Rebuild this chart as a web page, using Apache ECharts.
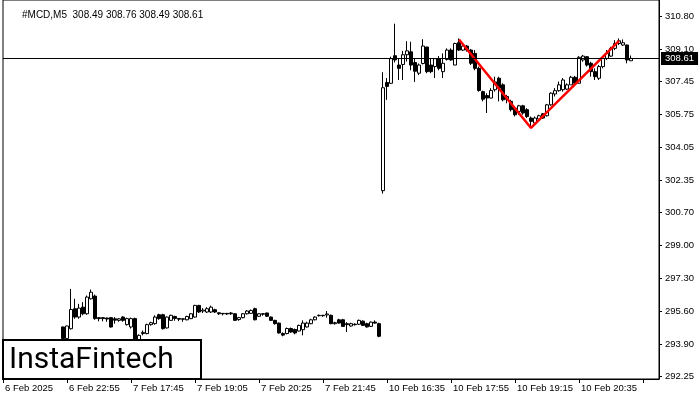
<!DOCTYPE html>
<html><head><meta charset="utf-8">
<script src="https://cdn.jsdelivr.net/npm/echarts@6/dist/echarts.min.js"></script>
<style>html,body{margin:0;padding:0;background:#fff}#c{width:700px;height:400px}</style>
</head><body><div id="c"></div>
<script>
// bars are 5-minute candles; index 0 = 6 Feb 21:35; bars before firstBar are not visible
const firstBar = 15;
const totalSlots = 165;
const xTickLabels = ['6 Feb 2025','6 Feb 22:55','7 Feb 17:45','7 Feb 19:05','7 Feb 20:25','7 Feb 21:45','10 Feb 16:35','10 Feb 17:55','10 Feb 19:15','10 Feb 20:35'];
const yTickLabels = ['292.25','293.90','295.60','297.30','299.00','300.70','302.35','304.05','305.75','307.45','309.10','310.80'];
const titleText = '#MCD,M5  308.49 308.76 308.49 308.61';
const lastPrice = 308.61;
const yMin = 292.10, yMax = 311.62;

const opens = [
294.78,294.18,294.69,295.72,295.29,295.80,295.46,296.23,296.37,295.26,295.26,295.24,295.26,295.20,295.12,295.29,294.90,294.78,295.21,294.13,
294.44,294.44,294.90,294.95,295.41,295.41,294.73,295.12,295.32,295.22,295.20,295.15,295.21,295.29,295.89,295.60,295.55,295.55,295.67,295.51,
295.48,295.48,295.50,295.46,295.16,295.26,295.46,295.48,295.72,295.33,295.46,295.50,295.29,295.12,294.98,294.44,294.44,294.70,294.65,294.57,
294.64,294.78,294.95,295.15,295.36,295.38,295.40,295.38,294.95,295.15,295.15,294.95,294.83,294.92,294.92,295.08,294.95,294.81,295.03,294.95,
301.80,307.37,307.33,308.75,308.27,308.30,308.80,308.95,308.40,307.85,308.35,309.20,308.27,308.19,308.60,307.93,308.56,309.04,308.27,309.42,
309.04,309.25,309.04,308.87,308.10,306.90,306.70,306.57,307.00,307.59,307.25,306.50,306.40,306.05,305.88,306.17,305.97,305.54,305.28,305.49,
305.76,305.66,306.22,306.78,306.95,307.00,307.03,307.25,307.64,307.33,308.53,308.70,308.36,307.93,307.59,308.19,308.61,308.73,309.13,309.38,
309.30,309.30,308.49];
const highs = [
294.80,294.85,296.74,296.23,295.97,296.06,296.40,296.71,296.45,295.28,295.28,295.26,295.29,295.29,295.24,295.34,295.26,295.26,295.26,294.40,
294.60,294.95,295.05,295.38,295.46,295.46,295.32,295.41,295.36,295.24,295.22,295.36,295.50,295.92,295.92,295.75,295.80,295.88,295.72,295.53,
295.50,295.50,295.55,295.50,295.30,295.50,295.65,295.68,295.77,295.50,295.48,295.52,295.32,295.15,295.00,294.50,294.75,294.75,294.70,294.90,
295.12,295.05,295.20,295.33,295.42,295.40,295.60,295.42,295.05,295.20,295.20,295.03,295.00,294.97,295.16,295.12,295.00,295.06,295.12,295.00,
307.90,307.60,308.70,310.40,308.60,309.00,309.50,309.47,308.60,308.35,309.60,309.20,308.60,308.60,308.73,308.87,309.13,309.13,309.42,309.64,
309.38,309.30,309.10,309.04,308.19,306.95,306.82,307.08,307.67,307.67,307.33,306.73,306.48,306.14,306.22,306.22,306.05,305.62,305.62,305.71,
305.80,306.27,306.86,307.08,307.42,307.60,307.33,307.71,307.71,308.73,308.79,308.73,308.44,308.10,308.27,308.70,309.04,309.21,309.55,309.64,
309.59,309.33,308.76];
const lows = [
293.95,294.10,294.65,295.20,295.20,295.38,295.41,296.20,295.15,295.07,295.07,295.05,294.74,294.95,295.05,295.05,294.85,294.70,294.10,294.10,
294.35,294.40,294.85,294.90,295.15,294.65,294.70,295.10,295.10,295.08,295.05,295.12,295.18,295.26,295.50,295.50,295.50,295.50,295.50,295.40,
295.38,295.40,295.40,295.10,295.10,295.22,295.42,295.45,295.12,295.30,295.36,295.30,295.10,294.90,294.44,294.30,294.40,294.48,294.40,294.55,
294.35,294.75,294.92,295.12,295.32,295.30,295.26,294.92,294.90,294.95,294.78,294.52,294.80,294.85,294.88,294.83,294.75,294.78,294.95,294.25,
301.65,306.48,307.30,308.40,307.50,307.50,308.45,308.00,307.40,307.75,308.30,307.85,307.85,307.60,308.00,307.60,308.50,308.50,308.27,309.00,
308.99,308.96,308.27,308.00,306.90,306.40,305.80,306.55,306.90,306.40,306.40,306.30,305.88,305.62,305.71,305.71,305.54,305.11,305.28,305.45,
305.49,305.62,306.17,306.65,306.90,306.90,306.99,307.25,307.25,307.33,308.44,308.19,307.67,307.50,307.50,308.10,308.53,308.70,309.04,309.30,
309.25,308.36,308.49];
const closes = [
294.18,294.83,295.68,295.29,295.75,295.46,296.32,296.57,295.21,295.21,295.21,295.19,294.78,295.13,295.20,295.12,295.21,295.21,294.15,294.35,
294.50,294.90,295.00,295.29,295.21,294.69,295.29,295.38,295.22,295.18,295.18,295.32,295.46,295.89,295.55,295.65,295.72,295.80,295.55,295.46,
295.46,295.45,295.46,295.12,295.26,295.46,295.60,295.63,295.15,295.46,295.44,295.33,295.12,294.95,294.47,294.36,294.70,294.52,294.47,294.86,
294.98,294.98,295.15,295.29,295.38,295.36,295.45,294.95,295.00,294.98,294.81,294.90,294.95,294.90,295.12,294.86,294.78,295.03,294.98,294.30,
307.10,307.17,308.60,308.53,308.10,308.80,309.00,308.27,307.95,308.27,309.25,307.93,307.93,308.60,308.10,308.36,309.04,308.53,309.38,309.04,
309.25,309.04,308.36,308.10,306.96,306.51,306.57,306.96,307.40,307.08,306.48,306.65,305.97,305.71,306.17,305.80,305.62,305.37,305.54,305.66,
305.54,306.22,306.82,306.95,307.25,307.50,307.25,307.64,307.33,308.67,308.73,308.27,307.93,307.67,308.19,308.61,308.87,309.13,309.38,309.52,
309.42,308.53,308.61];

// red pattern line (bar index, price)
const patternBars = [114, 132, 154];
const patternPrices = [309.59, 305.03, 309.52];

const FONT = 'Liberation Sans';
const categories = [];
for (let i = 0; i < totalSlots; i++) categories.push(String(i));
const candleData = [];
for (let i = 0; i < totalSlots; i++) {
  const k = i - firstBar;
  if (k >= 0 && k < opens.length) candleData.push([opens[k], closes[k], lows[k], highs[k]]);
  else candleData.push('-');
}
const patternData = patternBars.map((b, k) => [String(b), patternPrices[k]]);
const yTickValues = yTickLabels.map(Number);

const chart = echarts.init(document.getElementById('c'), null, {renderer: 'canvas'});
chart.setOption({
  animation: false,
  backgroundColor: '#fff',
  title: {text: titleText, left: 17, top: 5, textStyle: {fontFamily: FONT, fontSize: 10, fontWeight: 'normal', color: '#000'}},
  grid: {left: 3, right: 41, top: -2, bottom: 21, show: true, borderColor: '#000', borderWidth: 1, backgroundColor: '#fff'},
  xAxis: {
    type: 'category', data: categories, boundaryGap: false,
    axisLine: {show: true, lineStyle: {color: '#000', width: 1}},
    axisTick: {show: true, interval: 15, length: 4, lineStyle: {color: '#000'}},
    axisLabel: {interval: 15, align: 'left', margin: 4, padding: [0, 0, 0, 2], fontFamily: FONT, fontSize: 9.5, color: '#000',
      formatter: (v, i) => (i % 16 === 0 && xTickLabels[i / 16]) ? xTickLabels[i / 16] : ''},
    splitLine: {show: false}
  },
  yAxis: {
    type: 'value', position: 'right', min: yMin, max: yMax, scale: true,
    axisLine: {show: true, lineStyle: {color: '#000', width: 1}},
    axisTick: {show: true, length: 3, customValues: yTickValues, lineStyle: {color: '#000'}},
    axisLabel: {customValues: yTickValues, margin: 6, fontFamily: FONT, fontSize: 9.5, color: '#000',
      formatter: v => { const idx = yTickValues.indexOf(v); return idx >= 0 ? yTickLabels[idx] : ''; }},
    splitLine: {show: false}
  },
  series: [
    {
      type: 'candlestick', data: candleData, barWidth: 3,
      itemStyle: {color: '#fff', color0: '#000', borderColor: '#000', borderColor0: '#000', borderWidth: 1},
      markLine: {
        silent: true, symbol: 'none', animation: false,
        lineStyle: {color: '#000', width: 1, type: 'solid'},
        label: {show: true, position: 'end', distance: 2, formatter: lastPrice.toFixed(2), backgroundColor: '#000', color: '#fff',
          padding: [2, 4, 1, 4], fontFamily: FONT, fontSize: 9.5},
        data: [{yAxis: lastPrice}]
      },
      z: 2
    },
    {
      type: 'line', data: patternData, symbol: 'none', lineStyle: {color: '#ff0000', width: 2.5}, z: 3, silent: true
    }
  ],
  graphic: [
    {type: 'rect', z: 100, shape: {x: 3, y: 340, width: 198, height: 39}, style: {fill: '#fff', stroke: '#000', lineWidth: 2}},
    {type: 'text', z: 101, x: 9, y: 360, style: {text: 'InstaFintech', fill: '#000', font: '400 30px Roboto', textVerticalAlign: 'middle'}}
  ]
});
</script></body></html>
